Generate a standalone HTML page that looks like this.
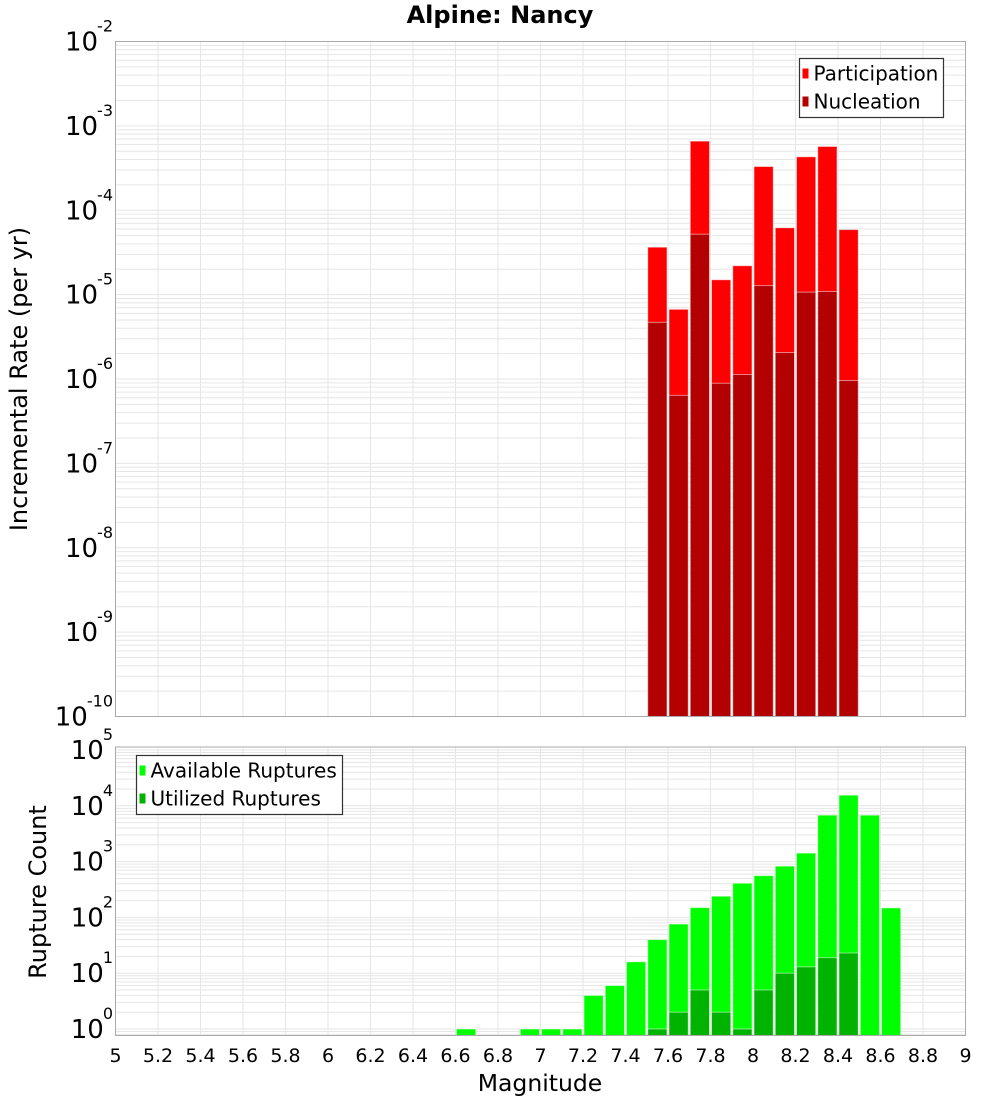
<!DOCTYPE html>
<html><head><meta charset="utf-8"><style>
body{margin:0;background:#fff;}
svg{display:block;font-family:"DejaVu Sans","Liberation Sans",sans-serif;}
</style></head><body>
<svg id="chart" width="1000" height="1100"></svg>
<script>
const bins = [5.0,5.1,5.2,5.3,5.4,5.5,5.6,5.7,5.8,5.9,6.0,6.1,6.2,6.3,6.4,6.5,6.6,6.7,6.8,6.9,7.0,7.1,7.2,7.3,7.4,7.5,7.6,7.7,7.8,7.9,8.0,8.1,8.2,8.3,8.4,8.5,8.6];
const rateMags = [7.5,7.6,7.7,7.8,7.9,8.0,8.1,8.2,8.3,8.4];
const participation = [3.65e-5,6.7e-6,6.6e-4,1.5e-5,2.2e-5,3.3e-4,6.2e-5,4.3e-4,5.7e-4,5.9e-5];
const nucleation = [4.7e-6,6.4e-7,5.2e-5,8.9e-7,1.13e-6,1.28e-5,2.06e-6,1.07e-5,1.09e-5,9.6e-7];
const countMags = [6.6,6.9,7.0,7.1,7.2,7.3,7.4,7.5,7.6,7.7,7.8,7.9,8.0,8.1,8.2,8.3,8.4,8.5,8.6];
const available = [1,1,1,1,4,6,16,40,76,150,240,410,560,830,1420,6800,15500,6800,148];
const utilMags = [7.5,7.6,7.7,7.8,7.9,8.0,8.1,8.2,8.3,8.4];
const utilized = [1,2,5,2,1,5,10,13,19,23];
const xTicks = [5,5.2,5.4,5.6,5.8,6,6.2,6.4,6.6,6.8,7,7.2,7.4,7.6,7.8,8,8.2,8.4,8.6,8.8,9];
const topExps = [-2,-3,-4,-5,-6,-7,-8,-9,-10];
const botExps = [5,4,3,2,1,0];

const NS="http://www.w3.org/2000/svg";
const svg=document.getElementById('chart');
function el(tag,attrs,parent,text){const e=document.createElementNS(NS,tag);for(const k in attrs)e.setAttribute(k,attrs[k]);if(text!==undefined)e.textContent=text;(parent||svg).appendChild(e);return e;}
const L=115.5,R=965.5;
const x=v=>L+(v-5)/4*(R-L);
const T1=41.5,B1=716.5;
const yTop=v=>T1+(-2-Math.log10(v))*(B1-T1)/8;
const y0b=1029, pdb=55.8, T2=747, B2=1035.5;
const yBot=v=>y0b-Math.log10(v)*pdb;

function grid(top,bot,yf,lo,hi,name){
  const g=el('g',{},svg);
  
  
  for(let e=lo;e<hi;e++)for(let m=1;m<10;m++){const yy=yf(m*Math.pow(10,e));if(yy>=top&&yy<=bot)el('line',{x1:L,x2:R,y1:yy,y2:yy,stroke:'#e6e6e6','stroke-width':1},g);}
  xTicks.forEach(t=>el('line',{x1:x(t),x2:x(t),y1:top,y2:bot,stroke:'#e6e6e6','stroke-width':1},g));
}
grid(T1,B1,yTop,-10,-2,'top-grid');
grid(T2,B2,yBot,-1,6,'bottom-grid');

const bw=(R-L)/40;
function bar(m,v,yf,base,fill,name){
  const r=el('rect',{x:x(m)+1,y:yf(v),width:bw-2,height:base-yf(v),fill:fill,stroke:'rgba(255,255,255,0.5)','stroke-width':1});
  
  
}
rateMags.forEach((m,i)=>bar(m,participation[i],yTop,B1,'#ff0000','participation-bar'));
rateMags.forEach((m,i)=>bar(m,nucleation[i],yTop,B1,'#b30000','nucleation-bar'));
countMags.forEach((m,i)=>bar(m,available[i],yBot,B2,'#00ff00','available-bar'));
utilMags.forEach((m,i)=>bar(m,utilized[i],yBot,B2,'#00b300','utilized-bar'));

el('rect',{x:L,y:T1,width:R-L,height:B1-T1,fill:'none',stroke:'#aaa','stroke-width':1});
el('rect',{x:L,y:T2,width:R-L,height:B2-T2,fill:'none',stroke:'#aaa','stroke-width':1});

function ylabel(yy,e,name){
  const t=el('text',{x:113,y:yy+9,'text-anchor':'end','font-size':26,fill:'#000'});
  
  
  el('tspan',{},t,'10');
  el('tspan',{'font-size':16,dy:-19,dx:-1},t,String(e));
}
topExps.forEach(e=>ylabel(yTop(Math.pow(10,e)),e,'y-tick-label'));
botExps.forEach(e=>ylabel(yBot(Math.pow(10,e)),e,'y-tick-label-bottom'));
xTicks.forEach(t=>{const tx=el('text',{x:x(t),y:1062,'text-anchor':'middle','font-size':19},svg,String(t));
  });

let t;
t=el('text',{x:500,y:23,'text-anchor':'middle','font-size':24,'font-weight':'bold'},svg,'Alpine: Nancy');

t=el('text',{x:540,y:1091,'text-anchor':'middle','font-size':23.5},svg,'Magnitude');

t=el('text',{x:0,y:0,'text-anchor':'middle','font-size':24,transform:'translate(27,379) rotate(-90)'},svg,'Incremental Rate (per yr)');

t=el('text',{x:0,y:0,'text-anchor':'middle','font-size':24,transform:'translate(46,892) rotate(-90)'},svg,'Rupture Count');


function legend(bx,by,w,items,name){
  const g=el('g',{},svg);
  
  
  el('rect',{x:bx,y:by,width:w,height:59,fill:'#fff',stroke:'#333','stroke-width':1.2},g);
  items.forEach((it,i)=>{
    el('rect',{x:bx+3,y:by+10+i*28,width:6,height:10,fill:it[1]},g);
    el('text',{x:bx+14,y:by+22+i*28,'font-size':20},g,it[0]);
  });
}
legend(799.5,58.5,144,[['Participation','#ff0000'],['Nucleation','#b30000']],'legend-top');
legend(136.5,755.5,206,[['Available Ruptures','#00ff00'],['Utilized Ruptures','#00b300']],'legend-bottom');
</script>
</body></html>
